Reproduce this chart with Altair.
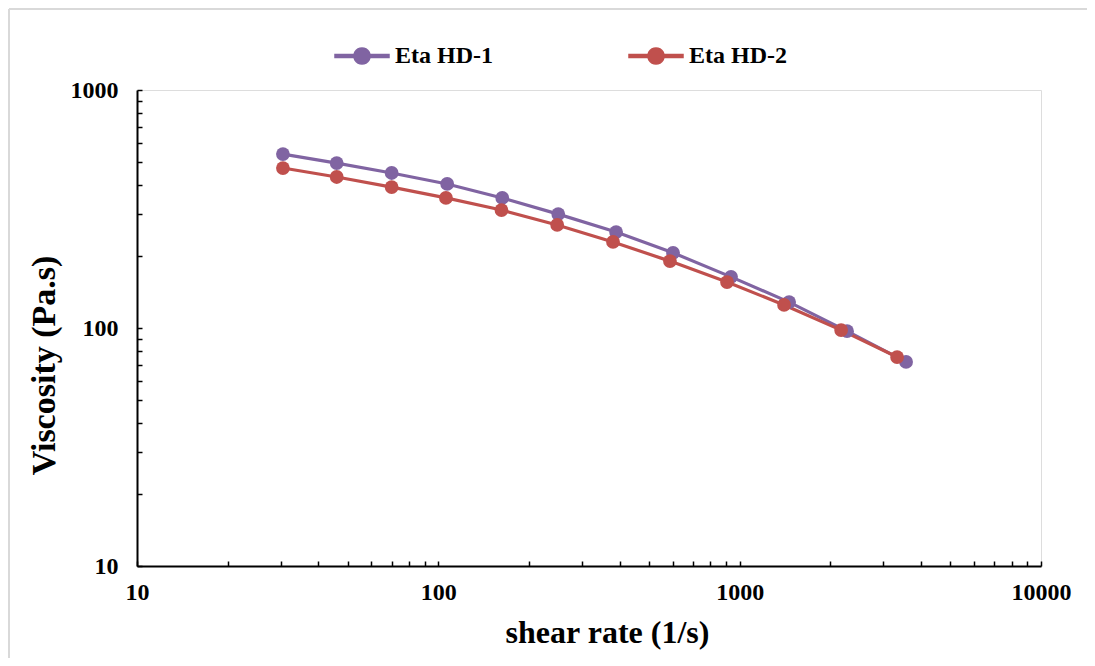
import math
import altair as alt
import pandas as pd

series_names = ["Eta HD-1", "Eta HD-2"]
colors = ["#8064A2", "#C0504D"]

rate_hd1 = [30.5, 46, 70, 107, 163, 250, 389, 601, 936, 1459, 2272, 3566]
visc_hd1 = [538, 493, 448, 403, 352, 301, 253, 207, 164, 128.5, 97, 72]
rate_hd2 = [30.5, 46, 70, 106, 162, 248, 380, 587, 908, 1404, 2171, 3330]
visc_hd2 = [470, 431, 391, 352, 313, 271, 230, 191, 156, 125, 98, 75.5]

x_major = [10, 100, 1000, 10000]
y_major = [10, 100, 1000]
x_minor = [v * m for v in [10, 100, 1000] for m in range(1, 11)]
y_minor = [v * m for v in [10, 100] for m in range(1, 11)]

df = pd.concat([
    pd.DataFrame({"series": series_names[0], "rate": rate_hd1, "visc": visc_hd1}),
    pd.DataFrame({"series": series_names[1], "rate": rate_hd2, "visc": visc_hd2}),
])

FONT = "Liberation Serif"
W, H = 904, 476

xscale = alt.Scale(type="log", domain=[10, 10000], nice=False)
yscale = alt.Scale(type="log", domain=[10, 1000], nice=False)
color_scale = alt.Scale(domain=series_names, range=colors)

main_x = alt.Axis(orient="bottom", values=x_major, format="d", title="shear rate (1/s)", ticks=False,
                  domainColor="black", domainWidth=2, gridColor="#d9d9d9", gridWidth=1.5,
                  labelFont=FONT, labelFontWeight="bold", labelFontSize=24, labelColor="black",
                  labelPadding=14, titleFont=FONT, titleFontWeight="bold", titleFontSize=32,
                  titleColor="black", titleX=470, titleY=66, titleBaseline="middle",
                  titleAlign="center", labelFlush=False, labelOverlap=False)
main_y = alt.Axis(orient="left", values=y_major, format="d", title="Viscosity (Pa.s)", ticks=False,
                  domainColor="black", domainWidth=2, gridColor="#d9d9d9", gridWidth=1.5,
                  labelFont=FONT, labelFontWeight="bold", labelFontSize=24, labelColor="black",
                  labelPadding=19, titleFont=FONT, titleFontWeight="bold", titleFontSize=34,
                  titleColor="black", titleX=-93, titleY=275, titleBaseline="middle",
                  titleAlign="center", titleAngle=270, labelFlush=False, labelOverlap=False)

# legend glyph: a line with a dot in the middle (unit box -1..1)
r = 0.3
circle_pts = " ".join(
    ("M" if i == 0 else "L") + f"{r*math.cos(2*math.pi*i/24):.4f},{r*math.sin(2*math.pi*i/24):.4f}"
    for i in range(24)
) + " Z"
legend_path = ("M-1,-0.06 L-0.25,-0.06 L-0.25,0.06 L-1,0.06 Z "
               "M0.25,-0.06 L1,-0.06 L1,0.06 L0.25,0.06 Z " + circle_pts)

legend = alt.Legend(title=None, orient="none", legendX=197, legendY=-62, direction="horizontal",
                    symbolType=legend_path, symbolSize=2916,
                    labelFont=FONT, labelFontWeight="bold", labelFontSize=24, labelColor="black",
                    labelOffset=5, columnPadding=133)

base = alt.Chart(df)

lines = base.mark_line(strokeWidth=3.2).encode(
    x=alt.X("rate:Q", scale=xscale, axis=None),
    y=alt.Y("visc:Q", scale=yscale, axis=None),
    color=alt.Color("series:N", scale=color_scale, legend=legend),
    detail="series:N",
)

points = base.mark_point(filled=True, size=190, opacity=1).encode(
    x=alt.X("rate:Q", scale=xscale, axis=main_x),
    y=alt.Y("visc:Q", scale=yscale, axis=main_y),
    color=alt.Color("series:N", scale=color_scale, legend=legend),
)

tick_axes = base.mark_point(opacity=0).encode(
    x=alt.X("rate:Q", scale=xscale,
            axis=alt.Axis(orient="bottom", values=x_minor, labels=False, domain=False, grid=False,
                          title=None, tickColor="black", tickWidth=1.5, tickSize=5, offset=-5)),
    y=alt.Y("visc:Q", scale=yscale,
            axis=alt.Axis(orient="left", values=y_minor, labels=False, domain=False, grid=False,
                          title=None, tickColor="black", tickWidth=1.5, tickSize=5, offset=-5)),
)

one = pd.DataFrame({"a": [0]})
border_left = alt.Chart(one).mark_rule(stroke="#d9d9d9", strokeWidth=2).encode(
    x=alt.value(-128), y=alt.value(-81), y2=alt.value(800))
border_top = alt.Chart(one).mark_rule(stroke="#d9d9d9", strokeWidth=2).encode(
    x=alt.value(-128), x2=alt.value(1200), y=alt.value(-81))

chart = alt.layer(border_left, border_top, lines, points, tick_axes).resolve_axis(
    x="independent", y="independent"
).properties(
    width=W, height=H,
    autosize=alt.AutoSizeParams(type="none"),
    padding={"left": 129, "top": 82, "right": 46, "bottom": 92},
).configure_view(stroke=None).configure(background="white")

chart.save("out.html", embed_options={"renderer": "svg", "actions": False})
